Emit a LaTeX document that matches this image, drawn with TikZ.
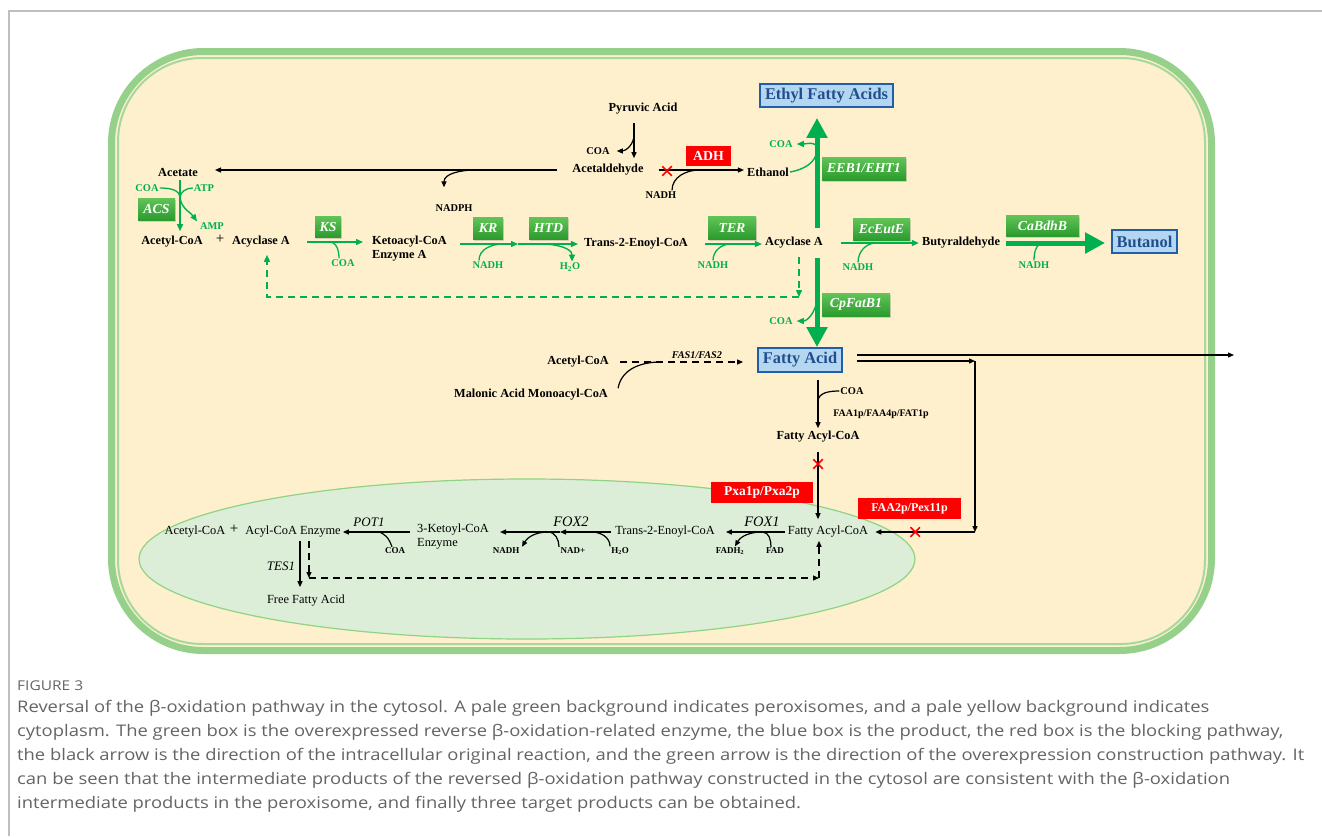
\documentclass[tikz,border=0pt]{standalone}
\usepackage{fontspec}
\setmainfont{Liberation Serif}
\newfontfamily\capfont[FakeStretch=1.15]{Open Sans}
\usepackage{tikz}
\usetikzlibrary{arrows.meta}
\usetikzlibrary{positioning}
\usetikzlibrary{shapes.misc}
\usetikzlibrary{shadows}
\definecolor{cellgreen}{HTML}{95D18A}
\definecolor{cyto}{HTML}{FEF0CD}
\definecolor{perox}{HTML}{DCEED8}
\definecolor{peroxline}{HTML}{8FD384}
\definecolor{arrgreen}{HTML}{00B050}
\definecolor{boxtop}{HTML}{62C457}
\definecolor{boxbot}{HTML}{2B9B2E}
\definecolor{prodfill}{HTML}{B4D6F0}
\definecolor{prodline}{HTML}{1F5EAA}
\definecolor{prodtext}{HTML}{1F4F8F}
\definecolor{capgray}{HTML}{646464}
\begin{document}
\begin{tikzpicture}[x=1pt,y=-1pt,
  lbl/.style={font=\fontsize{12.3}{14}\selectfont\bfseries,inner sep=1pt},
  sml/.style={font=\fontsize{10.4}{12}\selectfont\bfseries,inner sep=1pt},
  gsml/.style={sml,text=arrgreen},
  plbl/.style={font=\fontsize{12.4}{14}\selectfont,inner sep=1pt},
  psml/.style={font=\fontsize{9}{10}\selectfont\bfseries,inner sep=1pt},
  penz/.style={font=\fontsize{14.5}{16}\selectfont\itshape,inner sep=1pt},
  gbox/.style={top color=boxtop,bottom color=boxbot,text=white,font=\fontsize{13.8}{15}\selectfont\bfseries\itshape,inner sep=0pt,drop shadow={opacity=.3,shadow xshift=1pt,shadow yshift=-1.5pt}},
  rbox/.style={fill=red,text=white,font=\fontsize{12}{14}\selectfont\bfseries,inner sep=0pt},
  bbox/.style={fill=prodfill,draw=prodline,line width=1.8pt,text=prodtext,font=\fontsize{16.4}{18}\selectfont\bfseries,inner sep=0pt},
  garr/.style={arrgreen,line width=1.4pt,-{Triangle[length=7pt,width=6pt]}},
  gline/.style={arrgreen,line width=1.3pt},
  barr/.style={line width=1.2pt,-{Triangle[length=6pt,width=5pt]}},
  bline/.style={line width=1.2pt},
  fat/.style={arrgreen,line width=5pt,-{Triangle[length=20pt,width=20pt]}},
  stop/.style={draw=red,cross out,line width=1.5pt,minimum size=8pt,inner sep=0pt},
  dsh/.style={dash pattern=on 7pt off 5pt},
  capl/.style={anchor=west,inner sep=0pt,text=capgray,font=\capfont\fontsize{16}{18}\selectfont}]
\useasboundingbox (0,0) rectangle (1322,836);
\draw[black!25,line width=1.2pt] (9,836) -- (9,11) -- (1322,11);

% cell and peroxisome
\filldraw[fill=cyto,draw=cellgreen,line width=7pt,rounded corners=92pt] (111.5,51.5) rectangle (1211.5,650.5);
\draw[cellgreen!85,line width=2pt,rounded corners=84pt] (118,58) rectangle (1205,644);
\filldraw[fill=perox,draw=peroxline,line width=1.2pt] (527,559) ellipse [x radius=388,y radius=80];

% top: pyruvate, acetaldehyde, ethanol
\node (pyr) at (643,109)[lbl]{Pyruvic Acid};
\node (coaA) at (598,151)[sml]{COA};
\node (acald) at (608,170)[lbl]{Acetaldehyde};
\node (acet) at (178,172)[lbl]{Acetate};
\node (nadph) at (454,208)[sml]{NADPH};
\node (nadhA) at (661,195)[sml]{NADH};
\node (ethanol) at (768,172)[lbl]{Ethanol};
\node (coaB) at (781,144)[gsml]{COA};
\node (adh) at (708.5,156)[rbox,minimum width=45pt,minimum height=20pt,font=\fontsize{13.8}{15}\selectfont\bfseries]{ADH};
\node (ethyl) at (826.5,95.5)[bbox,minimum width=133pt,minimum height=23pt]{Ethyl Fatty Acids};
\node (eeb) at (864,168.5)[gbox,minimum width=84pt,minimum height=23pt]{EEB1/EHT1};

% reverse beta-oxidation row
\node (accoA) at (172,242)[lbl]{Acetyl-CoA};
\node (plus1) at (220,239)[font=\fontsize{15}{16}\selectfont]{+};
\node (acyc1) at (261,242)[lbl]{Acyclase A};
\node (coaACS) at (147,188)[gsml]{COA};
\node (atp) at (204,188)[gsml]{ATP};
\node (amp) at (212,226)[gsml]{AMP};
\node (acs) at (156.5,209)[gbox,minimum width=37pt,minimum height=22pt]{ACS};
\node (ks) at (328,226.5)[gbox,minimum width=26pt,minimum height=21pt]{KS};
\node (coaKS) at (343,263)[gsml]{COA};
\node (keto) at (371,249)[lbl,align=left,anchor=west]{Ketoacyl-CoA\\Enzyme A};
\node (kr) at (488,228)[gbox,minimum width=30pt,minimum height=22pt]{KR};
\node (htd) at (548.5,228)[gbox,minimum width=39pt,minimum height=22pt]{HTD};
\node (nadhKR) at (488,265)[gsml]{NADH};
\node (h2o) at (570,267)[gsml]{H\textsubscript{2}O};
\node (enoyl) at (636,244)[lbl]{Trans-2-Enoyl-CoA};
\node (ter) at (732,227.5)[gbox,minimum width=48pt,minimum height=23pt]{TER};
\node (nadhTER) at (713,265)[gsml]{NADH};
\node (acyc2) at (794,243)[lbl]{Acyclase A};
\node (eut) at (881.5,229)[gbox,minimum width=57pt,minimum height=22pt]{EcEutE};
\node (nadhEut) at (858,267)[gsml]{NADH};
\node (butal) at (961,243)[lbl]{Butyraldehyde};
\node (bdh) at (1042.5,225.5)[gbox,minimum width=73pt,minimum height=21pt]{CaBdhB};
\node (nadhBdh) at (1034,265)[gsml]{NADH};
\node (butanol) at (1144.5,241.5)[bbox,minimum width=65pt,minimum height=23pt]{Butanol};

% fatty acid part
\node (cpfat) at (856,304.5)[gbox,minimum width=68pt,minimum height=23pt]{CpFatB1};
\node (coaFat) at (781,321)[gsml]{COA};
\node (fa) at (800,360)[bbox,minimum width=84pt,minimum height=24pt]{Fatty Acid};
\node (accoB) at (578,362)[lbl]{Acetyl-CoA};
\node (fas) at (697,355)[font=\fontsize{10.3}{12}\selectfont\bfseries\itshape]{FAS1/FAS2};
\node (malonic) at (531,395)[lbl]{Malonic Acid Monoacyl-CoA};
\node (coaFA) at (852,391)[sml]{COA};
\node (faa) at (881,414)[font=\fontsize{10}{12}\selectfont\bfseries]{FAA1p/FAA4p/FAT1p};
\node (facoa) at (818,437)[lbl]{Fatty Acyl-CoA};
\node (pxa) at (762,492.5)[rbox,minimum width=102pt,minimum height=21pt,font=\fontsize{13.5}{15}\selectfont\bfseries]{Pxa1p/Pxa2p};
\node (pex) at (909.5,508.5)[rbox,minimum width=103pt,minimum height=21pt]{FAA2p/Pex11p};

% peroxisome
\node (pfacoa) at (828,532)[plbl]{Fatty Acyl-CoA};
\node (fox1) at (762,522)[penz]{FOX1};
\node (fad) at (775,551)[psml]{FAD};
\node (fadh) at (730,551)[psml]{FADH\textsubscript{2}};
\node (penoyl) at (665,532)[plbl]{Trans-2-Enoyl-CoA};
\node (fox2) at (571,522)[penz]{FOX2};
\node (ph2o) at (620,551)[psml]{H\textsubscript{2}O};
\node (nadp) at (573,551)[psml]{NAD+};
\node (pnadh) at (506,551)[psml]{NADH};
\node (ketoyl) at (416,537)[plbl,align=left,anchor=west]{3-Ketoyl-CoA\\Enzyme};
\node (pot1) at (369,522)[penz,font=\fontsize{13}{15}\selectfont\itshape]{POT1};
\node (pcoa) at (395,551)[psml]{COA};
\node (acylenz) at (293,532)[plbl]{Acyl-CoA Enzyme};
\node (plus2) at (234,529)[font=\fontsize{15}{16}\selectfont]{+};
\node (paccoa) at (195,532)[plbl]{Acetyl-CoA};
\node (tes1) at (281,566)[penz,font=\fontsize{13}{15}\selectfont\itshape]{TES1};
\node (ffa) at (306,601)[plbl]{Free Fatty Acid};

% black arrows, top
\draw[barr,shorten >=5pt] ([xshift=-9pt,yshift=-7pt]pyr.south) -- coordinate[pos=.3] (pyrJ) ([xshift=-9pt]pyr.south |- acald.north);
\draw[barr] (pyrJ) to[out=-90,in=0] ([xshift=6pt]coaA.east);
\draw[barr] ([xshift=-14pt]acald.west) -- coordinate[pos=.24] (adJ) ([xshift=16pt]acald.west -| acet.east);
\draw[barr] (adJ) to[out=180,in=90] ([shift={(-10,-16)}]nadph.north);
\draw[barr] ([xshift=14pt]acald.east) -- coordinate[pos=.48] (adhJ) ([xshift=-2pt]acald.east -| ethanol.west);
\draw[bline] ([xshift=11pt]nadhA.north) to[out=90,in=180] (adhJ);
\node (x1) at (667,171)[stop]{};

% thick green arrows
\coordinate (eUp) at (817,228);
\coordinate (fDown) at (817,258);
\draw[fat,shorten >=10pt] (eUp) -- coordinate[pos=.66] (eebJ) (eUp |- ethyl.south);
\draw[garr] (ethanol.east) to[out=10,in=-90] (eebJ) to[out=90,in=0] ([xshift=3pt]coaB.east);
\draw[fat] (fDown) -- coordinate[pos=.48] (fatJ) (fDown |- fa.north);
\draw[garr] (fatJ) to[out=-100,in=0] ([xshift=3pt]coaFat.east);
\draw[fat] ([xshift=5pt]butal.east) -- coordinate[pos=.38] (bdhJ) ([xshift=-6pt]butal.east -| butanol.west);
\draw[gline] (nadhBdh.north) to[out=90,in=180] (bdhJ);

% green arrows
\coordinate (acsJ) at (180,198);
\draw[garr,shorten >=4pt] ([yshift=-3pt]acet.south -| acsJ) -- (accoA.north -| acsJ);
\draw[gline] (coaACS.east) to[out=0,in=90] (acsJ);
\draw[gline] (atp.west) to[out=180,in=90] (acsJ);
\draw[garr] (acsJ) to[out=-80,in=125] ([xshift=-2pt]amp.north west);
\draw[garr] ([xshift=16pt]acyc1.east) -- coordinate[pos=.4] (ksJ) ([xshift=-8pt]acyc1.east -| keto.west);
\draw[gline] (ksJ) to[out=0,in=90] ([xshift=-4pt]coaKS.north);
\coordinate (krM) at (518,244);
\draw[garr] ([xshift=12pt]keto.east |- enoyl.west) -- coordinate[pos=.75] (krJ) (krM);
\draw[garr] (krM) -- coordinate[pos=.4] (htdJ) ([xshift=-5pt]enoyl.west);
\draw[gline] ([xshift=-9pt]nadhKR.north) to[out=90,in=180] (krJ);
\draw[garr] (htdJ) to[out=0,in=90] ([xshift=2pt]h2o.north);
\draw[garr] ([xshift=16pt]enoyl.east) -- coordinate[pos=.45] (terJ) ([xshift=-2pt]enoyl.east -| acyc2.west);
\draw[gline] (nadhTER.north) to[out=90,in=180] (terJ);
\draw[garr] ([xshift=17pt]acyc2.east) -- coordinate[pos=.45] (eutJ) ([xshift=-2pt]acyc2.east -| butal.west);
\draw[gline] (nadhEut.north) to[out=90,in=180] (eutJ);
\coordinate (dashR) at (799,297);
\coordinate (dashL) at (267,297);
\draw[garr,dsh] ([xshift=5pt,yshift=-7pt]acyc2.south) -- (dashR);
\draw[garr,dsh,shorten >=6pt] (dashR) -- (dashL) -- (dashL |- acyc1.south);

% fatty acid, black arrows
\draw[barr,dsh] ([xshift=10pt]accoB.east) -- coordinate[pos=.33] (fasJ) ([xshift=-14pt]accoB.east -| fa.west);
\draw[bline] ([xshift=9pt]malonic.north east) to[out=80,in=180] (fasJ);
\draw[barr,shorten <=7pt,shorten >=2pt] (facoa.north |- fa.south) -- coordinate[pos=.5] (faaJ) (facoa.north);
\draw[bline] (coaFA.west) to[out=180,in=90] (faaJ);
\draw[barr,shorten <=8pt,shorten >=6pt] (facoa.south) -- (facoa.south |- pfacoa.north);
\node (x2) at (818,464)[stop]{};
\coordinate (outR) at (1234,355);
\coordinate (drop) at (975,361);
\draw[barr] ([xshift=14pt,yshift=5pt]fa.east) -- (outR);
\draw[barr] ([xshift=14pt,yshift=-1pt]fa.east) -- (drop);
\draw[barr] (drop) -- (drop |- pfacoa.east);
\draw[barr] (drop |- pfacoa.east) -- coordinate[pos=.6] (pexJ) ([xshift=6pt]pfacoa.east);
\node (x3) at (pexJ)[stop]{};

% peroxisome arrows
\draw[barr] ([xshift=-2pt]pfacoa.west) -- coordinate[pos=.38] (fox1J) ([xshift=10pt]pfacoa.west -| penoyl.east);
\draw[bline] ([xshift=-4pt]fad.north) to[out=90,in=0] (fox1J);
\draw[barr] (fox1J) to[out=180,in=60] ([xshift=5pt]fadh.north);
\coordinate (fox2M) at (560,532);
\draw[barr] ([xshift=-3pt]penoyl.west) -- coordinate[pos=.38] (h2oJ) (fox2M);
\draw[barr] (fox2M) -- coordinate[pos=.2] (nadJ) ([xshift=10pt]fox2M -| ketoyl.east);
\draw[bline] ([xshift=-10pt]ph2o.north) to[out=90,in=0] (h2oJ);
\draw[bline] ([xshift=-14pt]nadp.north) to[out=90,in=0] (nadJ);
\draw[barr] (nadJ) to[out=180,in=60] ([xshift=16pt]pnadh.north);
\draw[barr] ([xshift=-6pt]ketoyl.west |- acylenz.east) -- coordinate[pos=.5] (potJ) ([xshift=1pt]acylenz.east);
\draw[bline] (potJ) to[out=0,in=110] ([xshift=-3pt]pcoa.north);
\draw[barr,shorten >=7pt] ([xshift=7pt,yshift=-2pt]acylenz.south) -- ([xshift=7pt]acylenz.south |- ffa.north);
\coordinate (dBL) at (309,578);
\coordinate (dBR) at (819,578);
\draw[barr,dsh] ([xshift=16pt,yshift=-2pt]acylenz.south) -- (dBL);
\draw[barr,dsh] (dBL) -- (dBR);
\draw[barr,dsh,shorten >=2pt] (dBR) -- (dBR |- pfacoa.south);

% caption
\node (figno) at (17,686)[capl,font=\capfont\fontsize{13.5}{15}\selectfont]{FIGURE 3};
\node (cap1) at (17,708)[capl]{Reversal of the β-oxidation pathway in the cytosol. A pale green background indicates peroxisomes, and a pale yellow background indicates};
\node (cap2) at (17,732)[capl]{cytoplasm. The green box is the overexpressed reverse β-oxidation-related enzyme, the blue box is the product, the red box is the blocking pathway,};
\node (cap3) at (17,756)[capl]{the black arrow is the direction of the intracellular original reaction, and the green arrow is the direction of the overexpression construction pathway. It};
\node (cap4) at (17,780)[capl]{can be seen that the intermediate products of the reversed β-oxidation pathway constructed in the cytosol are consistent with the β-oxidation};
\node (cap5) at (17,804)[capl]{intermediate products in the peroxisome, and finally three target products can be obtained.};
\end{tikzpicture}
\end{document}
